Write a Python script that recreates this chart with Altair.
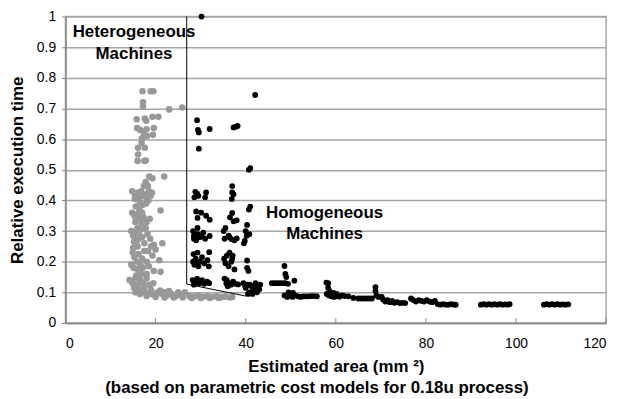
import altair as alt
import pandas as pd

# Heterogeneous machines (gray points)
het_x = [17.1, 18.9, 19.5, 17.2, 17.2, 23.0, 25.9,
         15.8, 17.6, 17.9, 19.3, 20.6,
         15.9, 16.6, 17.3, 18.0, 19.6, 17.5, 19.4, 18.1, 17.0,
         16.9, 16.1, 17.6, 16.1, 16.0, 17.5, 17.8,
         18.6, 19.3, 21.9, 17.8, 17.4, 18.3,
         14.8, 15.4, 15.9, 16.3, 16.8, 17.2, 17.6, 18.0, 18.5, 18.9, 19.2, 16.5, 17.9, 18.4,
         21.1,
         14.8, 15.3, 15.9, 16.4, 16.9, 15.5, 17.3, 18.7, 18.0,
         14.6, 15.0, 15.4, 15.9, 16.3, 16.7, 15.2, 16.0, 17.0, 17.5, 18.2, 18.8, 19.6, 21.5, 20.0, 19.0,
         14.9, 15.3, 15.8, 16.2, 16.6, 17.0, 17.5, 18.0, 18.5, 14.6, 15.1, 16.0, 17.2, 19.3, 20.8, 21.1, 19.6, 18.0, 16.8,
         14.2, 14.9, 15.5, 16.0, 16.6, 17.3, 18.0, 18.7, 19.5, 15.2, 16.3, 17.5,
         15.5, 16.5, 17.5, 18.5, 19.5, 20.5, 21.5, 22.5, 23.5, 24.5, 25.5, 26.5, 27.5, 28.5, 29.5,
         30.5, 31.5, 32.5, 33.5, 34.5, 35.5, 36.5, 37.0, 19.0, 21.0, 23.0, 25.0, 18.0, 20.0, 22.0,
         24.0, 26.0, 28.0, 30.0, 32.0, 34.0, 22.0, 20.3, 16.8, 17.8,
         15.6, 16.4, 17.1, 15.0, 16.0, 17.8, 15.7, 16.5, 18.3, 15.4, 17.0, 16.2]
het_y = [0.756, 0.756, 0.756, 0.72, 0.707, 0.697, 0.703,
         0.665, 0.667, 0.66, 0.673, 0.673,
         0.636, 0.63, 0.625, 0.632, 0.636, 0.615, 0.614, 0.61, 0.603,
         0.588, 0.572, 0.572, 0.55, 0.529, 0.529, 0.53,
         0.478, 0.472, 0.478, 0.46, 0.447, 0.447,
         0.43, 0.42, 0.425, 0.41, 0.43, 0.415, 0.42, 0.405, 0.43, 0.415, 0.425, 0.395, 0.39, 0.40,
         0.367,
         0.36, 0.35, 0.355, 0.34, 0.325, 0.33, 0.345, 0.34, 0.33,
         0.30, 0.285, 0.295, 0.27, 0.29, 0.305, 0.265, 0.31, 0.28, 0.26, 0.29, 0.275, 0.255, 0.26, 0.24, 0.25,
         0.23, 0.215, 0.2, 0.225, 0.19, 0.21, 0.235, 0.2, 0.185, 0.19, 0.18, 0.175, 0.18, 0.22, 0.205, 0.167, 0.17, 0.16, 0.16,
         0.14, 0.13, 0.145, 0.125, 0.14, 0.13, 0.145, 0.125, 0.13, 0.115, 0.11, 0.115,
         0.1, 0.095, 0.1, 0.095, 0.092, 0.1, 0.095, 0.09, 0.095, 0.088, 0.092, 0.1, 0.088, 0.086, 0.09,
         0.085, 0.088, 0.085, 0.087, 0.084, 0.086, 0.083, 0.085, 0.108, 0.106, 0.104, 0.1, 0.088, 0.085, 0.083,
         0.083, 0.083, 0.082, 0.082, 0.082, 0.082, 0.1, 0.095, 0.105, 0.098,
         0.38, 0.37, 0.385, 0.245, 0.25, 0.31, 0.155, 0.165, 0.235, 0.405, 0.36, 0.275]

# Homogeneous machines (black points)
hom_x = [30.2, 42.1, 29.2, 29.4, 29.6, 32.0, 37.3, 37.8, 38.2, 29.6, 41.0, 40.7,
         28.8, 29.2, 28.6, 29.5, 31.2, 31.0, 37.0, 37.0, 37.3, 36.9,
         41.0, 40.7,
         29.0, 30.1, 29.3, 32.0, 31.2,
         37.0, 37.3, 38.0, 36.5,
         40.3, 40.0,
         28.3, 28.8, 29.3, 29.8, 28.5, 29.0, 30.2, 30.6, 31.0, 32.0,
         35.1, 35.5, 35.3, 36.2, 36.8, 37.5, 38.0,
         39.8, 40.2, 40.8, 39.6,
         28.4, 28.9, 29.3, 29.8, 28.6, 29.5, 30.3, 30.8, 31.9, 31.8, 28.3,
         35.2, 35.8, 36.4, 37.1, 35.5, 36.2, 37.5, 36.8,
         40.3, 40.3, 40.6,
         28.2, 28.7, 29.2, 29.7, 30.3, 30.8, 31.4, 31.9, 28.5,
         35.3, 35.8, 36.2, 36.7, 37.2, 37.7, 38.3, 36.0,
         39.5, 40.0, 40.4, 40.8, 41.3, 41.7, 42.2, 42.6, 43.0, 40.5, 41.5, 42.5, 43.2,
         45.8, 46.4, 47.0, 47.6, 48.2, 48.8, 49.4, 48.6, 48.8, 49.0, 50.8,
         48.6, 49.2, 49.8, 50.4, 51.0, 51.6, 52.2, 52.8, 53.4, 54.0, 54.6, 55.2, 55.8, 49.5, 50.5,
         57.9, 58.3, 58.3, 58.6, 58.0, 58.5, 59.0, 59.6, 60.2, 60.8, 61.4, 62.0, 59.5, 60.2, 62.8, 63.9,
         65.0, 65.6, 66.2, 66.8, 67.4, 68.0,
         68.8, 68.8, 69.0, 69.5,
         70.5, 71.0, 71.5, 72.0, 72.5, 73.0, 73.6, 74.2, 74.8, 75.4, 70.2,
         76.7, 77.2, 77.8, 78.4, 79.0, 79.6, 80.2, 80.8, 81.4, 82.0,
         82.6, 83.2, 83.8, 84.4, 85.0, 85.6, 86.2, 86.6,
         92.2, 92.8, 93.4, 94.0, 94.6, 95.2, 95.8, 96.4, 97.0, 97.6, 98.2, 98.6,
         106.2, 106.8, 107.4, 108.0, 108.6, 109.2, 109.8, 110.4, 111.0, 111.6,
         28.5, 29.0, 28.7, 29.4, 31.5, 35.7, 36.4, 37.0, 39.9, 40.9]
hom_y = [1.0, 0.744, 0.662, 0.63, 0.622, 0.633, 0.638, 0.64, 0.643, 0.569, 0.505, 0.5,
         0.428, 0.423, 0.41, 0.415, 0.426, 0.41, 0.447, 0.426, 0.42, 0.405,
         0.38, 0.37,
         0.364, 0.36, 0.343, 0.337, 0.35,
         0.359, 0.332, 0.335, 0.345,
         0.32, 0.30,
         0.30, 0.29, 0.31, 0.28, 0.275, 0.27, 0.285, 0.295, 0.275, 0.284,
         0.30, 0.31, 0.275, 0.285, 0.274, 0.27, 0.276,
         0.268, 0.285, 0.29, 0.26,
         0.225, 0.21, 0.23, 0.2, 0.19, 0.185, 0.215, 0.195, 0.231, 0.185, 0.2,
         0.21, 0.22, 0.23, 0.22, 0.195, 0.185, 0.175, 0.2,
         0.204, 0.18, 0.17,
         0.14, 0.13, 0.145, 0.13, 0.14, 0.128, 0.135, 0.13, 0.125,
         0.145, 0.14, 0.13, 0.125, 0.135, 0.128, 0.126, 0.12,
         0.13, 0.115, 0.125, 0.1, 0.12, 0.11, 0.13, 0.12, 0.11, 0.095, 0.095, 0.1, 0.125,
         0.13, 0.13, 0.13, 0.13, 0.13, 0.13, 0.128, 0.186, 0.16, 0.15, 0.138,
         0.09, 0.085, 0.09, 0.085, 0.09, 0.087, 0.085, 0.087, 0.087, 0.087, 0.088, 0.088, 0.087, 0.1, 0.098,
         0.132, 0.13, 0.115, 0.105, 0.095, 0.09, 0.087, 0.085, 0.088, 0.086, 0.09, 0.088, 0.098, 0.095, 0.087, 0.082,
         0.08, 0.08, 0.08, 0.08, 0.08, 0.08,
         0.117, 0.105, 0.09, 0.085,
         0.077, 0.07, 0.075, 0.068, 0.072, 0.066, 0.068, 0.065, 0.066, 0.065, 0.085,
         0.08, 0.075, 0.07, 0.075, 0.072, 0.07, 0.075, 0.07, 0.068, 0.072,
         0.062, 0.06, 0.062, 0.06, 0.06, 0.062, 0.06, 0.06,
         0.06, 0.062, 0.06, 0.062, 0.06, 0.062, 0.06, 0.062, 0.06, 0.061, 0.06, 0.062,
         0.06, 0.062, 0.06, 0.062, 0.06, 0.062, 0.06, 0.061, 0.06, 0.061,
         0.285, 0.2, 0.135, 0.29, 0.205, 0.13, 0.28, 0.21, 0.12, 0.125]

# Boundary line
bound_x = [26.9, 26.9, 40.0]
bound_y = [1.0, 0.127, 0.088]

# Annotations
ann_text = ["Heterogeneous", "Machines", "Homogeneous", "Machines"]
ann_x = [15.2, 15.2, 57.5, 57.5]
ann_y = [0.949, 0.878, 0.360, 0.289]

x_ticks = [0, 20, 40, 60, 80, 100, 120]
y_ticks = [0, 0.1, 0.2, 0.3, 0.4, 0.5, 0.6, 0.7, 0.8, 0.9, 1]

FONT = "Liberation Sans"
W, H = 545, 309

pts = pd.concat([
    pd.DataFrame({"x": het_x, "y": het_y, "group": "Heterogeneous"}),
    pd.DataFrame({"x": hom_x, "y": hom_y, "group": "Homogeneous"}),
], ignore_index=True)
bound = pd.DataFrame({"x": bound_x, "y": bound_y, "o": list(range(len(bound_x)))})
ann = pd.DataFrame({"x": ann_x, "y": ann_y, "t": ann_text})
ticks = pd.DataFrame({"x": x_ticks})

X = alt.X("x:Q", scale=alt.Scale(domain=[0, 120], nice=False, zero=False),
          axis=alt.Axis(values=x_ticks, title="Estimated area (mm ²)", grid=False,
                        tickSize=0, labelPadding=14, labelFontSize=14, labelFont=FONT,
                        labelColor="black", titleFont=FONT, titleFontSize=17,
                        titleFontWeight="bold", titleColor="black", titlePadding=8,
                        domainColor="#868686", domainWidth=1.5, labelOverlap=False))
Y = alt.Y("y:Q", scale=alt.Scale(domain=[0, 1], nice=False),
          axis=alt.Axis(values=y_ticks, format="~g", title="Relative execution time",
                        grid=True, gridColor="#a6a6a6", gridWidth=1.5,
                        tickSize=4, tickColor="#868686", labelPadding=6, labelFontSize=14,
                        labelFont=FONT, labelColor="black", titleFont=FONT,
                        titleFontSize=17, titleFontWeight="bold", titleColor="black",
                        titlePadding=10, domainColor="#868686", domainWidth=1.5,
                        labelOverlap=False))

points = alt.Chart(pts).mark_circle(opacity=1).encode(
    x=X, y=Y,
    color=alt.Color("group:N", scale=alt.Scale(domain=["Heterogeneous", "Homogeneous"],
                                               range=["#999999", "#000000"]), legend=None),
    size=alt.Size("group:N", scale=alt.Scale(domain=["Heterogeneous", "Homogeneous"],
                                             range=[44, 34]), legend=None),
    order=alt.Order("group:N"),
)

line = alt.Chart(bound).mark_line(color="black", strokeWidth=1).encode(
    x=X, y=Y, order="o:Q")

text = alt.Chart(ann).mark_text(font=FONT, fontSize=17, fontWeight="bold",
                                color="black", align="center", baseline="middle").encode(
    x=X, y=Y, text="t:N")

tk = alt.Chart(ticks).mark_rule(color="#868686", strokeWidth=1).encode(
    x=X, y=alt.value(H - 5), y2=alt.value(H))

chart = alt.layer(points, line, text, tk).properties(
    width=W, height=H,
    padding={"left": 58, "top": 7, "right": 12, "bottom": 75},
    autosize=alt.AutoSizeParams(type="none"),
    title=alt.TitleParams(text="(based on parametric cost models for 0.18u process)",
                          orient="bottom", font=FONT, fontSize=17, fontWeight="bold",
                          color="black", dx=-19, offset=6),
).configure_view(stroke="#a6a6a6", strokeWidth=1.5)

chart.save("out.html", embed_options={"renderer": "svg", "actions": False})
